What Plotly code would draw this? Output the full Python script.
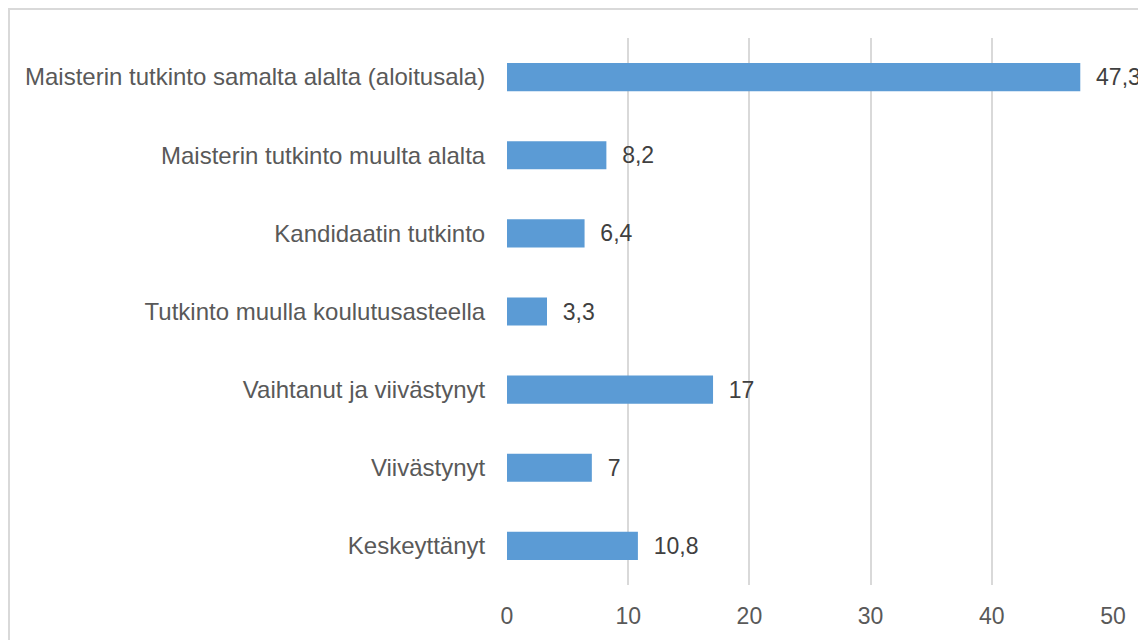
import plotly.graph_objects as go

categories = [
    "Maisterin tutkinto samalta alalta (aloitusala)",
    "Maisterin tutkinto muulta alalta",
    "Kandidaatin tutkinto",
    "Tutkinto muulla koulutusasteella",
    "Vaihtanut ja viivästynyt",
    "Viivästynyt",
    "Keskeyttänyt",
]
values = [47.3, 8.2, 6.4, 3.3, 17, 7, 10.8]
x_ticks = [0, 10, 20, 30, 40, 50]

labels = ["\u00a0\u00a0" + ("%g" % v).replace(".", ",") for v in values]

FONT = "Liberation Sans, Arial, sans-serif"

fig = go.Figure(go.Bar(
    x=values, y=categories, orientation="h",
    marker=dict(color="#5B9BD5", line=dict(width=0)),
    width=0.36,
    text=labels, textposition="outside",
    textfont=dict(size=23, color="#404040", family=FONT),
    cliponaxis=False,
))

L, T = 499, 30
W, H = 1146, 640
pw, ph = 606, 547
R, B = W - L - pw, H - T - ph

fig.update_layout(
    width=W, height=H,
    margin=dict(l=L, r=R, t=T, b=B, pad=0),
    paper_bgcolor="white", plot_bgcolor="white",
    showlegend=False,
    font=dict(family=FONT, color="#595959"),
    xaxis=dict(
        range=[0, 50], tickvals=x_ticks, ticktext=[str(t) for t in x_ticks],
        showgrid=True, gridcolor="#d9d9d9", gridwidth=1.5,
        zeroline=False, showline=False,
        ticks="outside", ticklen=10, tickcolor="rgba(0,0,0,0)",
        tickfont=dict(size=23, color="#595959"),
    ),
    yaxis=dict(
        autorange="reversed", showgrid=False, zeroline=False, showline=False,
        ticks="outside", ticklen=16, tickcolor="rgba(0,0,0,0)",
        tickfont=dict(size=24, color="#595959"),
    ),
    shapes=[dict(
        type="rect", xref="paper", yref="paper",
        x0=(1 - L) / pw, x1=1.2, y0=-0.3, y1=1 + (T - 1) / ph,
        line=dict(color="#d9d9d9", width=2), fillcolor="rgba(0,0,0,0)",
        layer="below",
    )],
)

fig.write_html("out.html")
